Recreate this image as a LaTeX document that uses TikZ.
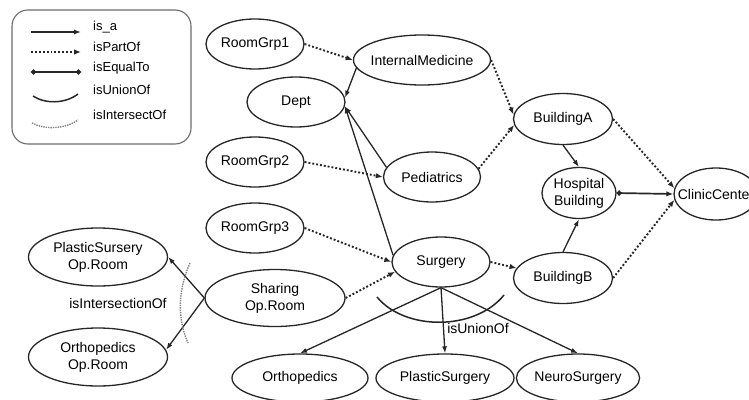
\documentclass[tikz,border=0pt]{standalone}
\usepackage{fontspec}
\setmainfont{Liberation Sans}
\usetikzlibrary{arrows.meta, shapes.geometric}

\begin{document}
\begin{tikzpicture}[x=1pt, y=-1pt,
  concept/.style={ellipse, draw=black!85, line width=1.3pt, inner sep=0pt,
    align=center, font=\fontsize{14}{17}\selectfont},
  isa/.style={-{Latex[length=7pt, width=5pt]}, line width=1.3pt, black!85},
  partof/.style={-{Latex[length=7pt, width=5.5pt]}, line width=1.9pt, dotted, black!85},
  equalto/.style={{Circle[length=5pt]}-{Latex[length=7pt, width=5.5pt]}, line width=1.7pt, black!85},
  lbl/.style={font=\fontsize{14}{17}\selectfont, inner sep=0pt}]

\useasboundingbox (0, 0) rectangle (749, 399);

% --- Legend ---
\draw[gray!85!black, line width=1.1pt, rounded corners=16pt] (12, 10) rectangle (191, 144);
\draw[isa] (31, 32) -- (81, 32);
\draw[partof] (31, 52) -- (81, 52);
\draw[line width=1.7pt, black!85, {Circle[length=5pt]}-{Circle[length=5pt]}] (31, 72) -- (81, 72);
\draw[line width=1.5pt, black!85] (33, 96) .. controls (45, 104) and (65, 104) .. (78, 94);
\draw[line width=1.4pt, gray, densely dotted] (32, 123) .. controls (45, 130) and (65, 129) .. (78, 120);
\foreach \y/\name/\lab in {27/lisa/is\_a, 47/lpart/isPartOf, 68/lequal/isEqualTo,
  90/lunion/isUnionOf, 115/linter/isIntersectOf} {
  \node[lbl, font=\fontsize{13}{16}\selectfont, anchor=west] (\name) at (93, \y) {\lab};
}

% --- Rooms ---
\node[concept, minimum width=98, minimum height=50] (rg1) at (255, 44) {RoomGrp1};
\node[concept, minimum width=98, minimum height=50] (rg2) at (255, 162) {RoomGrp2};
\node[concept, minimum width=98, minimum height=50] (rg3) at (255, 228) {RoomGrp3};
\node[concept, minimum width=140, minimum height=57] (share) at (275, 298) {Sharing\\Op.Room};
\node[concept, minimum width=139, minimum height=58] (psor) at (98, 257) {PlasticSursery\\Op.Room};
\node[concept, minimum width=139, minimum height=58] (oor) at (98, 357) {Orthopedics\\Op.Room};

% --- Departments ---
\node[concept, minimum width=98, minimum height=50] (dept) at (296, 102) {Dept};
\node[concept, inner xsep=-5pt, minimum width=137, minimum height=50] (intmed) at (422, 60) {InternalMedicine};
\node[concept, minimum width=97, minimum height=50] (pedia) at (432, 177) {Pediatrics};
\node[concept, minimum width=98, minimum height=50] (surg) at (441, 262) {Surgery};
\node[concept, minimum width=136, minimum height=48] (ortho) at (300, 378) {Orthopedics};
\node[concept, minimum width=138, minimum height=48] (plastic) at (445, 378) {PlasticSurgery};
\node[concept, minimum width=121, minimum height=48] (neuro) at (578, 378) {NeuroSurgery};

% --- Buildings ---
\node[concept, minimum width=99, minimum height=51] (bldA) at (563, 119) {BuildingA};
\node[concept, minimum width=99, minimum height=51] (bldB) at (563, 278) {BuildingB};
\node[concept, minimum width=74, minimum height=51] (hosp) at (579, 193) {Hospital\\Building};
\node[concept, inner xsep=-14pt, minimum width=84, minimum height=52] (clinic) at (716, 194) {ClinicCenter};

% --- isPartOf ---
\draw[partof] (rg1.east) -- (intmed.west);
\draw[partof] (rg2.east) -- (pedia.west);
\draw[partof] (rg3.east) -- (surg.west);
\draw[partof] (share.east) -- (surg.192);
\draw[partof] (intmed.east) -- (bldA.175);
\draw[partof] (pedia.10) -- (bldA.187);
\draw[partof] (surg.east) -- (bldB.168);
\draw[partof] (bldA.east) -- (clinic.172);
\draw[partof] (bldB.east) -- (clinic.188);

% --- is_a ---
\draw[isa] (intmed.187) -- (dept.5);
\draw[isa] (pedia.168) -- (dept.-5);
\draw[isa] (surg.172) -- (dept.-5);
\draw[isa] (bldA.south) -- (hosp.north);
\draw[isa] (bldB.north) -- (hosp.south);
\draw[isa] (share.west) -- (psor.east);
\draw[isa] (share.west) -- (oor.6);
\draw[isa] (surg.south) -- (ortho.north);
\draw[isa] (surg.south) -- (plastic.north);
\draw[isa] (surg.south) -- (neuro.north);

% --- isEqualTo ---
\draw[equalto] (hosp.east) -- (clinic.west);

% --- isUnionOf ---
\draw[line width=1.5pt, black!85] (377, 297) .. controls (405, 331) and (475, 331) .. (504, 295);
\node[lbl] (union) at (478, 328) {isUnionOf};

% --- isIntersectionOf ---
\draw[line width=1.4pt, gray, densely dotted] (190, 263) .. controls (178, 290) and (177, 318) .. (188, 343);
\node[lbl] (inter) at (118, 303) {isIntersectionOf};

\end{tikzpicture}
\end{document}
